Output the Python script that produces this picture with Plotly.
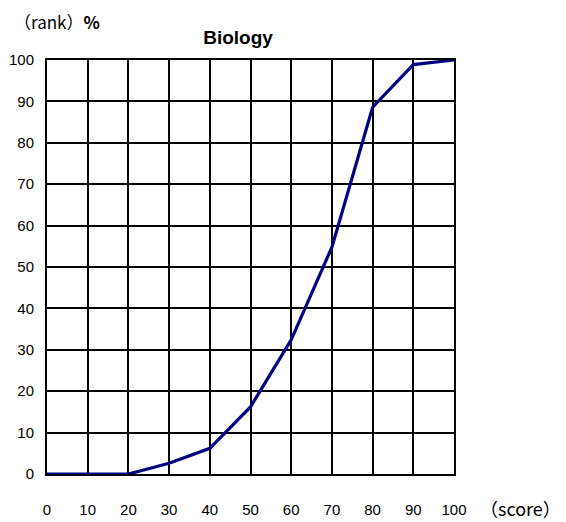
import plotly.graph_objects as go

# Cumulative rank (%) by score
scores = [0, 10, 20, 30, 40, 50, 60, 70, 80, 90, 100]
rank_pct = [0, 0, 0, 2.6, 6.2, 16.2, 32.4, 54.8, 88.6, 98.9, 100]
tick_vals = [0, 10, 20, 30, 40, 50, 60, 70, 80, 90, 100]

_FONT = "Liberation Sans, Arial, sans-serif"
_CJK = "Noto Sans CJK JP, sans-serif"
_TICK_FONT = 15
_PAGE_PAD = 8  # default body margin of the html page

fig = go.Figure()
fig.add_scatter(
    x=scores,
    y=rank_pct,
    mode="lines",
    line=dict(color="#000080", width=3.2),
    cliponaxis=False,
    showlegend=False,
)

fig.update_layout(
    width=566,
    height=522,
    margin=dict(l=47 - _PAGE_PAD, r=112 + _PAGE_PAD, t=60 - _PAGE_PAD, b=48 + _PAGE_PAD),
    plot_bgcolor="white",
    paper_bgcolor="white",
    font=dict(family=_FONT, size=_TICK_FONT, color="black"),
    title=dict(
        text="<b>Biology</b>",
        x=(238 - _PAGE_PAD) / 566,
        y=1 - (37 - _PAGE_PAD) / 522,
        xanchor="center",
        yanchor="middle",
        font=dict(size=19, family=_FONT),
    ),
    annotations=[
        dict(
            text="（rank）<b>%</b>",
            xref="paper", yref="paper",
            x=(12 - 47) / 407, y=(474 - 21) / 414,
            xanchor="left", yanchor="middle",
            showarrow=False,
            font=dict(size=17, family=_CJK),
        ),
        dict(
            text="（score）",
            xref="paper", yref="paper",
            x=(563 - 47) / 407, y=(474 - 508) / 414,
            xanchor="right", yanchor="middle",
            showarrow=False,
            font=dict(size=18, family=_CJK),
        ),
    ],
)

axis_style = dict(
    range=[0, 100],
    tickvals=tick_vals,
    showgrid=True,
    gridcolor="black",
    gridwidth=2,
    showline=True,
    linecolor="black",
    linewidth=2,
    mirror=True,
    zeroline=False,
    ticks="",
    automargin=False,
    tickfont=dict(size=_TICK_FONT, family=_FONT),
)
fig.update_xaxes(**axis_style, ticklabelstandoff=21)
fig.update_yaxes(**axis_style, ticklabelstandoff=8)

fig.write_html("out.html")
